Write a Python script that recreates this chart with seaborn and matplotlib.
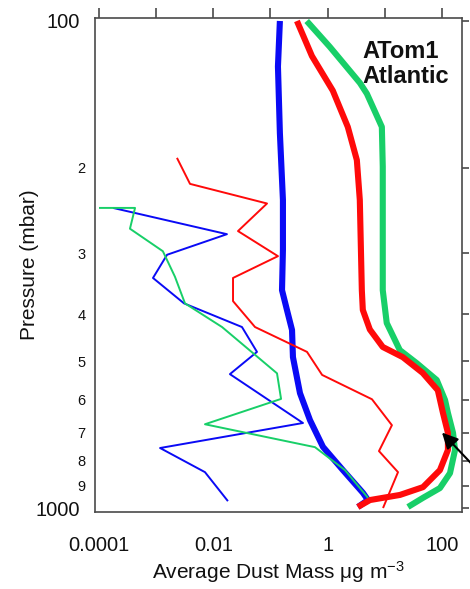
import matplotlib
matplotlib.use("Agg")
import matplotlib.pyplot as plt
from matplotlib.ticker import FixedLocator, FixedFormatter, NullLocator
import pandas as pd
import seaborn as sns

# ---- profile data: pressure (mbar) and dust mass (ug m-3) ----
# thick lines: campaign-average profiles
P_BLUE_AVG = [100, 124, 170, 233, 295, 357, 392, 431, 490, 581, 660, 749, 836, 931, 963, 995]
M_BLUE_AVG = [0.146, 0.135, 0.146, 0.165, 0.165, 0.159, 0.194, 0.238, 0.247, 0.328,
              0.491, 0.828, 1.85, 4.15, 5.07, 3.39]

P_RED_AVG = [100, 118, 139, 165, 193, 233, 357, 392, 430, 467, 490, 528, 573, 638,
             701, 760, 836, 906, 940, 963, 995]
M_RED_AVG = [0.29, 0.53, 1.23, 2.25, 3.24, 3.65, 3.96, 4.12, 5.47, 9.2, 20.6, 46, 84.5, 104,
             127, 127, 92, 46.5, 18.4, 5.5, 3.37]

P_GREEN_AVG = [100, 113, 134, 141, 165, 199, 357, 417, 474, 504, 546, 600, 638, 701,
               760, 848, 910, 953, 995]
M_GREEN_AVG = [0.43, 1.09, 3.66, 4.85, 8.87, 9.2, 9.2, 10.8, 18.3, 36, 81, 113, 127, 156,
               169, 138, 92, 46.5, 25.4]

# thin lines: individual profiles
P_BLUE_ONE = [242, 274, 302, 337, 380, 425, 478, 531, 669, 753, 844, 968]
M_BLUE_ONE = [1.76e-4, 0.0173, 0.00155, 8.8e-4, 0.00307, 0.0317, 0.058, 0.0195, 0.37,
              0.00117, 0.00714, 0.018]

P_GREEN_ONE = [242, 242, 267, 297, 335, 380, 425, 529, 597, 673, 750, 836, 953]
M_GREEN_ONE = [1.0e-4, 4.27e-4, 3.48e-4, 0.00131, 0.00213, 0.00319, 0.0142, 0.130, 0.153,
               0.00714, 0.60, 2.01, 5.07]

P_RED_ONE = [191, 216, 237, 270, 304, 337, 376, 425, 478, 533, 598, 676, 764, 844, 1000]
M_RED_ONE = [0.00231, 0.00391, 0.0869, 0.027, 0.135, 0.0221, 0.0221, 0.0536, 0.435, 0.80,
             5.96, 13.3, 7.9, 17.0, 9.3]

X_TICKS = [1e-4, 1e-3, 1e-2, 1e-1, 1, 10, 100]
X_TICK_LABELS = ["0.0001", "", "0.01", "", "1", "", "100"]
Y_MAJOR = [100, 1000]
Y_MAJOR_LABELS = ["100", "1000"]
Y_MINOR = [200, 300, 400, 500, 600, 700, 800, 900]
Y_MINOR_LABELS = ["2", "3", "4", "5", "6", "7", "8", "9"]

BLUE = "#0a0af5"
RED = "#ff0a0a"
GREEN = "#18cf68"

sns.set_theme(style="white")
plt.rcParams["font.family"] = ["Liberation Sans", "DejaVu Sans"]
plt.rcParams["mathtext.fontset"] = "custom"
plt.rcParams["mathtext.rm"] = "Liberation Sans"
plt.rcParams["mathtext.it"] = "Liberation Sans:italic"

fig = plt.figure(figsize=(4.7, 5.89), dpi=100)
ax = fig.add_axes([95 / 470, 1 - 512 / 589, 367 / 470, 494 / 589])


def profile(p, m):
    return pd.DataFrame({"pressure": p, "mass": m})


series = [
    (P_GREEN_AVG, M_GREEN_AVG, GREEN, 4.4),
    (P_BLUE_AVG, M_BLUE_AVG, BLUE, 4.4),
    (P_RED_AVG, M_RED_AVG, RED, 4.4),
    (P_BLUE_ONE, M_BLUE_ONE, BLUE, 1.4),
    (P_GREEN_ONE, M_GREEN_ONE, GREEN, 1.4),
    (P_RED_ONE, M_RED_ONE, RED, 1.4),
]
for p, m, c, lw in series:
    sns.lineplot(data=profile(p, m), x="mass", y="pressure", sort=False,
                 estimator=None, color=c, lw=lw, solid_capstyle="butt",
                 solid_joinstyle="round", ax=ax)

ax.set_xscale("log")
ax.set_yscale("log")
ax.set_xlim(10 ** -4.07, 10 ** 2.35)
ax.set_ylim(1019, 98.6)

ax.xaxis.set_major_locator(FixedLocator(X_TICKS))
ax.xaxis.set_major_formatter(FixedFormatter(X_TICK_LABELS))
ax.xaxis.set_minor_locator(NullLocator())
ax.yaxis.set_major_locator(FixedLocator(Y_MAJOR))
ax.yaxis.set_major_formatter(FixedFormatter(Y_MAJOR_LABELS))
ax.yaxis.set_minor_locator(FixedLocator(Y_MINOR))
ax.yaxis.set_minor_formatter(FixedFormatter(Y_MINOR_LABELS))

tick_color = "#4a4a4a"
ax.tick_params(axis="x", which="major", direction="out", length=9.5, width=1.2,
               color=tick_color, labelsize=14.5, pad=8, top=True, labelcolor="#111111")
ax.tick_params(axis="y", which="major", direction="out", length=8.6, width=1.2,
               color=tick_color, labelsize=14.5, pad=2.5, right=True, labelcolor="#111111")
ax.tick_params(axis="y", which="minor", direction="out", length=5.5, width=1.2,
               color=tick_color, labelsize=10.5, pad=1.2, right=True, labelcolor="#111111")

# shorter ticks on the top and right edges
for t in ax.xaxis.get_major_ticks():
    t.tick2line.set_markersize(7.2)
for t in ax.yaxis.get_major_ticks() + ax.yaxis.get_minor_ticks():
    t.tick2line.set_markersize(5)

for s in ax.spines.values():
    s.set_color(tick_color)
    s.set_linewidth(1.2)

ax.set_xlabel("Average Dust Mass μg m$^{-3}$", fontsize=15, color="#111111")
ax.set_ylabel("Pressure (mbar)", fontsize=15, color="#111111")
ax.xaxis.set_label_coords(0.5, -0.095)
ax.yaxis.set_label_coords(-0.152, 0.5)

ax.text(0.7275, 0.9555, "ATom1\nAtlantic", transform=ax.transAxes, ha="left", va="top",
        fontsize=17, fontweight="bold", color="#111111", linespacing=1.1)

ax.annotate("", xy=(100, 700), xytext=(36, -38), textcoords="offset points",
            annotation_clip=False,
            arrowprops=dict(arrowstyle="-|>", color="black", lw=1.5,
                            mutation_scale=24, shrinkA=0, shrinkB=0))

fig.savefig("out.png", dpi=100)
